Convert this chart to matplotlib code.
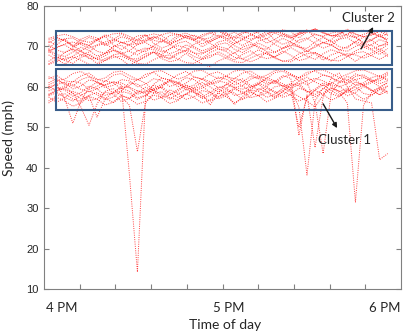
import numpy as np
import matplotlib
matplotlib.use("Agg")
import matplotlib.pyplot as plt
from matplotlib.patches import Rectangle

# sample times, minutes after 4 PM (3-min detector data)
minutes = list(range(-5, 122, 3))

# cluster 2 days (upper speed regime)
c2_a = [71.2, 70.4, 71.9, 72.1, 70.8, 70.3, 71.7, 72.9, 72.0, 70.9, 71.3, 72.6, 72.8, 71.5, 71.1, 72.7, 73.0, 72.2, 71.4, 72.9, 73.4, 72.5, 71.8, 72.3, 73.6, 73.2, 72.0, 72.8, 74.0, 73.3, 72.6, 73.4, 73.9, 72.9, 72.5, 73.3, 73.7, 72.6, 72.2, 73.0, 73.5, 72.4, 71.9]
c2_b = [68.5, 69.9, 70.4, 69.1, 67.9, 68.6, 70.2, 70.7, 69.4, 68.2, 68.9, 70.5, 71.0, 69.7, 68.6, 69.3, 70.8, 71.3, 70.0, 68.9, 69.6, 71.1, 71.6, 70.2, 69.2, 69.9, 71.4, 71.9, 70.5, 69.5, 70.1, 71.6, 72.1, 70.7, 69.6, 70.3, 71.8, 72.2, 70.8, 69.8, 70.4, 71.7, 70.9]
c2_c = [66.3, 67.6, 66.6, 65.8, 67.3, 68.1, 66.8, 66.5, 67.9, 68.3, 67.0, 66.9, 68.2, 68.6, 67.4, 67.1, 68.4, 68.8, 67.5, 66.8, 67.3, 68.7, 67.7, 66.6, 68.0, 68.9, 67.6, 67.0, 67.4, 68.9, 67.8, 66.5, 67.0, 68.5, 67.3, 66.4, 67.6, 68.2, 67.9, 67.1, 67.8, 68.9, 67.5]
c2_d = [69.3, 71.4, 71.8, 70.2, 68.9, 70.1, 71.5, 72.5, 70.4, 69.2, 70.5, 71.7, 72.9, 70.8, 69.6, 70.3, 72.3, 72.8, 71.6, 69.9, 71.1, 72.3, 73.4, 71.4, 70.2, 71.4, 72.6, 73.7, 71.6, 70.5, 71.3, 73.2, 74.1, 72.1, 70.9, 71.6, 73.4, 73.8, 72.4, 70.7, 71.5, 73.1, 71.0]
c2_e = [67.9, 66.8, 68.5, 69.3, 68.8, 67.0, 67.1, 68.3, 69.0, 68.6, 67.3, 68.9, 69.6, 69.2, 67.9, 69.5, 70.2, 69.7, 68.4, 68.1, 69.3, 70.0, 69.5, 68.2, 69.8, 70.5, 70.0, 68.7, 68.4, 69.6, 70.3, 69.9, 68.6, 70.2, 70.9, 70.4, 69.1, 68.8, 70.0, 70.7, 70.3, 69.0, 70.5]
c2_f = [70.9, 72.0, 71.5, 70.0, 71.8, 72.6, 72.1, 70.5, 71.6, 73.1, 72.0, 71.3, 72.6, 73.1, 72.7, 71.2, 72.8, 73.3, 72.5, 71.8, 72.1, 73.9, 72.7, 71.6, 73.2, 73.8, 73.3, 71.8, 73.4, 74.1, 73.7, 72.1, 73.6, 74.3, 73.4, 72.6, 72.8, 74.3, 73.1, 72.4, 72.9, 74.0, 73.2]
c2_g = [65.7, 66.9, 65.6, 67.1, 67.8, 67.3, 65.8, 67.0, 67.7, 66.8, 65.3, 66.5, 67.3, 68.6, 67.0, 66.2, 66.7, 68.3, 66.8, 65.6, 65.0, 66.4, 67.2, 68.5, 66.9, 66.2, 67.0, 68.6, 67.1, 66.3, 66.7, 68.2, 68.9, 68.2, 66.6, 67.9, 68.6, 67.8, 66.3, 67.7, 68.4, 69.5, 68.0]
c2_h = [70.4, 69.1, 68.5, 69.6, 70.9, 70.2, 68.8, 68.3, 69.9, 71.0, 70.4, 69.0, 68.7, 70.2, 71.3, 70.6, 69.2, 68.9, 70.5, 71.6, 70.8, 69.4, 69.1, 70.7, 71.8, 71.0, 69.6, 69.3, 70.9, 72.0, 71.1, 69.8, 69.5, 71.1, 72.2, 71.3, 69.9, 69.6, 71.2, 72.3, 71.5, 70.1, 71.0]
c2_i = [69.0, 69.7, 70.6, 71.1, 70.5, 69.6, 70.4, 71.1, 71.7, 71.0, 70.3, 70.8, 71.8, 72.3, 71.5, 70.9, 71.4, 72.3, 72.8, 72.0, 71.2, 72.1, 72.7, 73.5, 72.5, 71.8, 72.3, 73.2, 73.7, 73.1, 72.0, 73.0, 73.5, 74.4, 73.3, 72.6, 73.1, 74.0, 73.0, 72.4, 72.8, 73.7, 72.7]
c2_j = [68.9, 67.3, 66.6, 67.6, 68.9, 67.8, 66.8, 67.7, 69.1, 68.1, 67.1, 66.3, 67.7, 68.6, 67.9, 66.8, 68.1, 69.1, 68.4, 67.1, 68.5, 69.4, 68.7, 67.3, 66.9, 67.9, 69.2, 68.1, 67.4, 68.4, 69.7, 68.6, 67.6, 66.8, 68.2, 69.2, 68.5, 67.5, 68.9, 69.8, 69.1, 68.0, 69.5]
c2_k = [71.6, 72.3, 71.4, 70.1, 71.0, 72.2, 71.6, 70.2, 71.1, 72.4, 71.8, 70.4, 71.3, 72.5, 71.9, 70.5, 71.4, 72.6, 72.0, 70.6, 71.5, 72.8, 72.1, 70.7, 71.6, 72.9, 72.2, 70.8, 71.7, 73.0, 72.3, 70.9, 71.8, 73.1, 72.4, 71.0, 71.9, 73.0, 72.2, 70.9, 71.7, 72.6, 71.5]
c2_l = [65.5, 66.3, 67.1, 67.4, 66.6, 65.6, 65.4, 66.5, 67.3, 67.6, 66.7, 65.8, 65.6, 66.7, 67.6, 67.9, 66.9, 66.0, 65.8, 66.9, 67.8, 68.1, 67.1, 66.2, 66.0, 67.1, 68.0, 68.3, 67.3, 66.4, 66.2, 67.3, 68.2, 68.5, 67.5, 66.6, 66.4, 67.5, 68.4, 68.7, 67.7, 66.8, 67.9]
c2_m = [72.0, 72.6, 73.0, 72.4, 71.5, 71.0, 71.6, 72.5, 73.1, 73.3, 72.5, 71.6, 71.3, 72.0, 72.9, 73.4, 73.0, 72.1, 71.7, 72.4, 73.3, 73.8, 73.2, 72.3, 72.0, 72.8, 73.6, 74.0, 73.3, 72.5, 72.2, 73.0, 73.8, 74.2, 73.5, 72.7, 72.4, 73.1, 73.9, 74.0, 73.2, 72.6, 73.0]
c2_n = [69.2, 68.0, 67.5, 68.6, 69.8, 69.0, 67.6, 68.3, 69.9, 70.3, 68.8, 67.9, 69.2, 70.0, 69.1, 68.2, 68.9, 70.4, 69.6, 68.4, 69.0, 70.5, 70.9, 69.3, 68.5, 69.7, 70.8, 69.8, 68.6, 69.5, 70.9, 70.2, 68.9, 69.8, 71.0, 70.4, 69.1, 69.9, 71.2, 70.5, 69.3, 70.1, 70.6]

# cluster 1 days (lower speed regime, with congestion dips)
c1_a = [59.5, 60.8, 57.0, 51.0, 56.5, 59.8, 61.2, 60.3, 58.4, 59.0, 61.0, 60.7, 59.1, 58.6, 60.2, 61.8, 60.9, 59.3, 59.8, 61.1, 60.0, 58.7, 59.5, 61.3, 62.0, 60.4, 59.2, 60.1, 61.6, 60.8, 59.7, 61.5, 62.4, 61.2, 60.3, 60.8, 62.2, 61.7, 60.5, 61.0, 62.3, 62.8, 61.9]
c1_b = [58.0, 59.3, 60.2, 58.5, 55.0, 50.5, 55.8, 58.9, 59.6, 57.8, 57.2, 58.5, 59.9, 59.1, 57.3, 58.0, 59.4, 60.3, 58.8, 57.5, 58.6, 60.0, 59.7, 57.9, 58.3, 59.8, 60.7, 59.0, 57.6, 58.8, 60.4, 60.9, 58.9, 58.1, 59.5, 61.1, 60.2, 58.6, 59.3, 60.6, 61.4, 60.0, 61.0]
c1_c = [61.0, 62.0, 60.6, 60.2, 61.8, 62.5, 61.0, 60.4, 61.3, 60.5, 38.5, 14.2, 57.5, 60.6, 62.2, 61.6, 60.0, 60.9, 62.4, 62.0, 60.6, 61.1, 62.7, 61.3, 60.2, 61.9, 62.6, 61.2, 60.8, 62.4, 63.1, 61.5, 60.5, 61.7, 63.0, 62.4, 61.0, 61.6, 63.2, 62.5, 61.3, 62.0, 63.3]
c1_d = [56.5, 57.8, 58.3, 57.0, 56.4, 57.9, 58.6, 57.2, 56.1, 57.5, 55.5, 44.0, 56.0, 58.4, 58.8, 57.3, 56.8, 58.2, 59.0, 57.6, 56.5, 57.4, 59.1, 58.5, 56.9, 57.7, 59.6, 58.7, 57.2, 58.0, 59.5, 55.0, 38.2, 56.5, 59.8, 58.3, 57.6, 59.2, 60.0, 58.4, 57.9, 59.3, 60.2]
c1_e = [60.2, 59.0, 59.8, 61.4, 60.9, 59.4, 60.1, 61.5, 61.0, 59.5, 60.3, 61.9, 60.9, 59.2, 60.0, 61.6, 61.2, 59.8, 60.4, 62.0, 61.3, 59.7, 60.5, 62.2, 61.4, 59.9, 60.6, 62.3, 61.5, 60.1, 60.8, 62.4, 61.2, 56.0, 43.5, 58.5, 61.2, 62.6, 61.7, 60.3, 61.0, 62.5, 61.6]
c1_f = [57.5, 56.2, 57.3, 58.9, 58.1, 56.6, 57.0, 58.7, 58.2, 56.4, 57.1, 59.0, 58.3, 56.7, 57.4, 59.3, 58.4, 56.9, 57.5, 59.1, 58.6, 57.0, 57.8, 59.4, 58.8, 57.3, 57.9, 59.6, 58.9, 57.4, 58.1, 59.7, 59.0, 57.6, 58.4, 59.8, 58.6, 56.0, 31.5, 55.5, 58.6, 59.9, 58.8]
c1_g = [62.0, 62.8, 61.5, 61.2, 62.7, 63.4, 61.9, 61.3, 62.9, 63.3, 62.0, 61.6, 63.1, 63.6, 62.2, 61.7, 63.0, 63.8, 62.5, 61.9, 63.2, 63.7, 62.6, 62.0, 63.4, 63.9, 62.7, 62.1, 63.5, 63.9, 62.8, 62.3, 63.6, 63.9, 62.9, 62.4, 63.4, 60.0, 57.0, 56.5, 56.0, 42.0, 43.5]
c1_h = [59.0, 59.8, 59.2, 57.7, 58.6, 60.2, 59.5, 57.9, 58.5, 60.1, 59.8, 58.2, 58.8, 60.4, 59.7, 58.0, 58.9, 60.5, 59.6, 58.3, 55.5, 58.5, 60.7, 59.8, 58.4, 59.2, 60.9, 60.1, 58.5, 59.1, 60.8, 60.3, 58.7, 59.4, 61.0, 60.2, 58.8, 59.6, 61.2, 60.4, 59.0, 59.7, 61.1]
c1_i = [56.0, 57.4, 56.5, 55.2, 56.0, 57.6, 57.0, 55.5, 56.2, 57.9, 57.1, 55.7, 56.4, 58.0, 57.3, 55.9, 56.6, 58.3, 57.4, 56.0, 56.8, 58.5, 57.6, 56.1, 57.0, 58.7, 57.8, 56.3, 57.2, 58.9, 57.9, 56.5, 57.4, 59.1, 58.1, 56.7, 57.6, 59.3, 58.3, 56.9, 57.9, 59.5, 58.4]
c1_j = [60.5, 61.4, 60.9, 59.5, 60.2, 61.7, 61.3, 59.8, 60.4, 61.8, 61.5, 60.0, 60.7, 62.0, 61.6, 60.1, 60.8, 62.3, 61.8, 60.3, 61.0, 62.4, 61.9, 60.5, 61.2, 62.6, 62.0, 60.6, 61.3, 62.8, 62.1, 48.0, 58.0, 45.0, 57.5, 62.2, 61.4, 61.0, 62.6, 63.0, 61.7, 61.4, 63.0]
c1_k = [58.2, 59.0, 59.6, 58.4, 57.0, 57.8, 52.5, 57.0, 58.7, 59.7, 58.9, 57.3, 57.9, 59.4, 60.0, 58.6, 57.4, 58.2, 59.6, 60.1, 58.7, 57.5, 58.3, 59.8, 60.3, 58.9, 57.7, 58.5, 60.0, 60.4, 59.0, 50.0, 57.5, 59.2, 60.5, 59.1, 57.9, 58.8, 60.3, 60.6, 59.2, 58.1, 60.3]
c1_l = [62.5, 61.6, 61.9, 63.3, 63.8, 62.7, 61.7, 62.2, 63.6, 63.9, 62.8, 61.8, 62.4, 63.8, 64.0, 62.9, 61.9, 62.6, 63.9, 64.1, 63.0, 62.0, 62.7, 63.9, 64.2, 63.1, 62.1, 62.9, 64.0, 64.3, 63.2, 62.2, 63.0, 64.1, 64.2, 63.3, 62.3, 63.1, 64.0, 64.2, 63.4, 62.5, 63.7]
c1_m = [60.0, 60.6, 61.1, 60.5, 59.4, 58.8, 59.5, 60.5, 61.2, 61.0, 59.9, 59.0, 58.7, 59.6, 60.6, 61.3, 60.9, 59.8, 59.1, 59.7, 60.8, 61.5, 61.0, 59.9, 59.4, 60.1, 61.1, 61.8, 61.2, 60.2, 59.7, 60.5, 61.5, 62.1, 61.5, 60.5, 60.0, 60.8, 61.8, 62.3, 61.6, 60.8, 61.5]
c1_n = [57.8, 58.6, 57.4, 56.5, 57.9, 59.0, 58.1, 56.8, 57.5, 58.9, 58.4, 56.9, 57.8, 59.3, 58.0, 57.0, 58.2, 59.4, 58.6, 57.1, 57.9, 59.5, 58.3, 55.6, 57.6, 59.2, 58.9, 57.4, 58.1, 59.7, 58.8, 57.6, 56.5, 55.0, 58.0, 59.6, 59.0, 57.8, 58.6, 60.1, 59.2, 58.0, 59.0]

cluster2_days = [c2_a, c2_b, c2_c, c2_d, c2_e, c2_f, c2_g, c2_h, c2_i, c2_j, c2_k, c2_l, c2_m, c2_n]
cluster1_days = [c1_a, c1_b, c1_c, c1_d, c1_e, c1_f, c1_g, c1_h, c1_i, c1_j, c1_k, c1_l, c1_m, c1_n]

hour_pos = [0, 62, 120]
hour_labels = ["4 PM", "5 PM", "6 PM"]

# boxes drawn around the two clusters: (x0, x1, y0, y1)
box_c2 = (-2.2, 122.6, 65.4, 73.9)
box_c1 = (-2.2, 122.6, 54.4, 64.3)

fig = plt.figure(figsize=(4.04, 3.33), dpi=100)
ax = fig.add_axes([0.109, 0.132, 0.884, 0.850])

for day in cluster2_days + cluster1_days:
    ax.plot(minutes, day, color="red", linestyle=(0, (1, 1.3)), linewidth=0.7, alpha=0.75)

for x0, x1, y0, y1 in [box_c2, box_c1]:
    ax.add_patch(Rectangle((x0, y0), x1 - x0, y1 - y0, fill=False,
                           edgecolor="#385D8A", linewidth=1.5, zorder=5))

xmin, xmax = -6.7, 126
ax.set_xlim(xmin, xmax)
ax.set_ylim(10, 80)
ax.set_yticks(range(10, 81, 10))
ax.set_xticks(hour_pos)
ax.set_xticklabels(hour_labels, fontfamily="Lato", fontsize=9.5, color="#262626")
ax.set_xticks(np.linspace(xmin, xmax, 11)[1:-1], minor=True)
ax.tick_params(axis="x", which="major", length=0, pad=9)
ax.tick_params(axis="both", which="both", direction="in", top=True, right=True,
               colors="#808080", labelcolor="#262626", width=0.8)
ax.tick_params(axis="x", which="minor", length=3.5)
ax.tick_params(axis="y", length=3.5, labelsize=8, pad=4)
for lab in ax.get_yticklabels():
    lab.set_fontfamily("Liberation Sans")
for s in ax.spines.values():
    s.set_color("#808080")
    s.set_linewidth(0.8)

fig.text(0.557, 0.024, "Time of day", ha="center", va="center",
         fontfamily="Lato", fontsize=10, color="#262626")
fig.text(0.022, 0.585, "Speed (mph)", ha="center", va="center", rotation=90,
         fontfamily="Lato", fontsize=10, color="#262626")

arrow_style = dict(arrowstyle="-|>", color="#1a1a1a", lw=1.0, mutation_scale=7,
                   shrinkA=0, shrinkB=0)
ax.annotate("", xy=(115.6, 74.8), xytext=(111.1, 69.4), arrowprops=arrow_style, zorder=6)
ax.text(113.7, 77.0, "Cluster 2", ha="center", va="center", fontfamily="Lato",
        fontsize=9.5, color="#262626")
ax.annotate("", xy=(102.2, 49.8), xytext=(97.0, 55.8), arrowprops=arrow_style, zorder=6)
ax.text(104.8, 46.9, "Cluster 1", ha="center", va="center", fontfamily="Lato",
        fontsize=9.5, color="#262626")

fig.savefig("out.png", dpi=100)
